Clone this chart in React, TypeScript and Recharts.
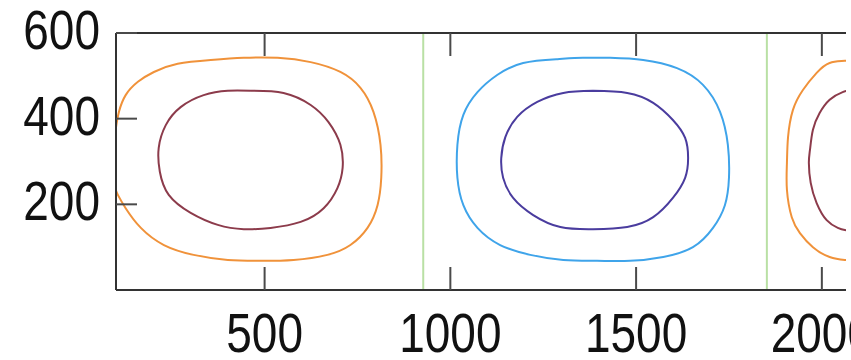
import React from "react";
import { ComposedChart, Line, XAxis, YAxis, ReferenceLine } from "recharts";

type Pt = { x: number; y: number };

const xTicks = [500, 1000, 1500, 2000];
const yTicks = [200, 400, 600];
const xDomain: [number, number] = [100, 2065];
const yDomain: [number, number] = [0, 600];

// cell boundaries (pale green verticals)
const dividers = [927, 1852];

// contour lines as [x, y]
const leftOuter = [
  [100, 380], [108, 416], [126, 455], [159, 486], [202, 509], [266, 528],
  [355, 537], [444, 542], [535, 542], [624, 532], [704, 509], [758, 472],
  [793, 416], [812, 339], [814, 262], [804, 198], [777, 145], [731, 105],
  [669, 82], [578, 70], [489, 68], [401, 70], [309, 82], [229, 105],
  [167, 145], [126, 191], [105, 222], [100, 232],
];
const leftInner = [
  [462, 465], [551, 460], [624, 432], [672, 392], [704, 339], [710, 285],
  [696, 238], [659, 191], [597, 159], [516, 145], [444, 142], [374, 152],
  [301, 180], [242, 222], [218, 276], [215, 332], [234, 385], [274, 427],
  [336, 455], [401, 465], [462, 465],
];
const midOuter = [
  [1430, 542], [1519, 537], [1610, 518], [1680, 479], [1726, 416], [1747, 339],
  [1750, 262], [1739, 198], [1707, 145], [1653, 100], [1573, 77], [1484, 68],
  [1395, 68], [1304, 70], [1215, 82], [1134, 105], [1073, 145], [1035, 198],
  [1019, 262], [1019, 339], [1035, 409], [1073, 462], [1126, 502], [1196, 530],
  [1288, 539], [1357, 542], [1430, 542],
];
const midInner = [
  [1384, 465], [1476, 460], [1546, 437], [1599, 397], [1632, 355], [1640, 308],
  [1632, 262], [1599, 215], [1546, 170], [1476, 147], [1384, 142], [1296, 147],
  [1223, 175], [1169, 215], [1142, 262], [1137, 308], [1148, 357], [1180, 404],
  [1234, 439], [1304, 460], [1384, 465],
];
const rightOuter = [
  [2090, 540], [2062, 535], [2021, 530], [1986, 507], [1949, 467], [1922, 420],
  [1909, 357], [1906, 297], [1906, 234], [1919, 170], [1941, 133], [1976, 100],
  [2021, 77], [2062, 70], [2090, 68],
];
const rightInner = [
  [2085, 468], [2056, 462], [2021, 444], [1994, 413], [1976, 374], [1968, 327],
  [1965, 297], [1970, 250], [1986, 203], [2013, 163], [2043, 145], [2062, 140],
  [2085, 138],
];

const toPts = (a: number[][]): Pt[] => a.map(([x, y]) => ({ x, y }));

const contours = [
  { id: "lo", pts: leftOuter, color: "#F0923A" },
  { id: "li", pts: leftInner, color: "#8C3B4B" },
  { id: "mo", pts: midOuter, color: "#3FA4EA" },
  { id: "mi", pts: midInner, color: "#4A3C9E" },
  { id: "ro", pts: rightOuter, color: "#F0923A" },
  { id: "ri", pts: rightInner, color: "#8C3B4B" },
];

const FONT = "'Liberation Sans', Arial, sans-serif";
const TICK = "#4a4a4a";
const PLOT_TOP = 33;
const AXIS_H = 70;
const PLOT_H = 360 - PLOT_TOP - AXIS_H;

// bottom tick: inward tick at the bottom, the mirrored one on the top border, and the label
const BottomTick = (props: any) => {
  const { x, y, payload } = props;
  const top = y - PLOT_H;
  return (
    <g>
      <line x1={x} y1={y} x2={x} y2={y - 23} stroke={TICK} strokeWidth={2} />
      <line x1={x} y1={top} x2={x} y2={top + 23} stroke={TICK} strokeWidth={2} />
      <text
        transform={`translate(${x},${y + 62}) scale(1,1.22)`}
        textAnchor="middle"
        fontFamily={FONT}
        fontSize={46}
        fill="#111"
      >
        {payload.value}
      </text>
    </g>
  );
};

const LeftTick = (props: any) => {
  const { x, y, payload } = props;
  return (
    <g>
      <line x1={x} y1={y} x2={x + 21} y2={y} stroke={TICK} strokeWidth={2} />
      <text
        transform={`translate(${x - 16},${y + 16}) scale(1,1.22)`}
        textAnchor="end"
        fontFamily={FONT}
        fontSize={46}
        fill="#111"
      >
        {payload.value}
      </text>
    </g>
  );
};

export default function App() {
  return (
    <div style={{ position: "absolute", left: 0, top: 0, width: 851, height: 360, background: "#fff" }}>
      <ComposedChart width={851} height={360} margin={{ top: 0, right: 5, bottom: 0, left: 0 }}>
        <XAxis
          xAxisId="b"
          type="number"
          dataKey="x"
          domain={xDomain}
          ticks={xTicks}
          interval={0}
          allowDataOverflow
          orientation="bottom"
          height={AXIS_H}
          tickSize={0}
          tickMargin={0}
          tickLine={false}
          tick={<BottomTick />}
          axisLine={{ stroke: "#333", strokeWidth: 2 }}
        />
        <XAxis
          xAxisId="t"
          type="number"
          domain={xDomain}
          ticks={xTicks}
          allowDataOverflow
          orientation="top"
          height={PLOT_TOP}
          tickLine={false}
          tick={false}
          axisLine={{ stroke: "#333", strokeWidth: 2 }}
        />
        <YAxis
          yAxisId="l"
          type="number"
          dataKey="y"
          domain={yDomain}
          ticks={yTicks}
          interval={0}
          allowDataOverflow
          width={116}
          tickSize={0}
          tickMargin={0}
          tickLine={false}
          tick={<LeftTick />}
          axisLine={{ stroke: "#333", strokeWidth: 2 }}
        />
        {dividers.map((d) => (
          <ReferenceLine key={d} x={d} xAxisId="b" yAxisId="l" stroke="#B9E0A4" strokeWidth={2} />
        ))}
        {contours.map((c) => (
          <Line
            key={c.id}
            xAxisId="b"
            yAxisId="l"
            data={toPts(c.pts)}
            dataKey="y"
            type="natural"
            stroke={c.color}
            strokeWidth={2}
            dot={false}
            activeDot={false}
            isAnimationActive={false}
          />
        ))}
      </ComposedChart>
    </div>
  );
}
